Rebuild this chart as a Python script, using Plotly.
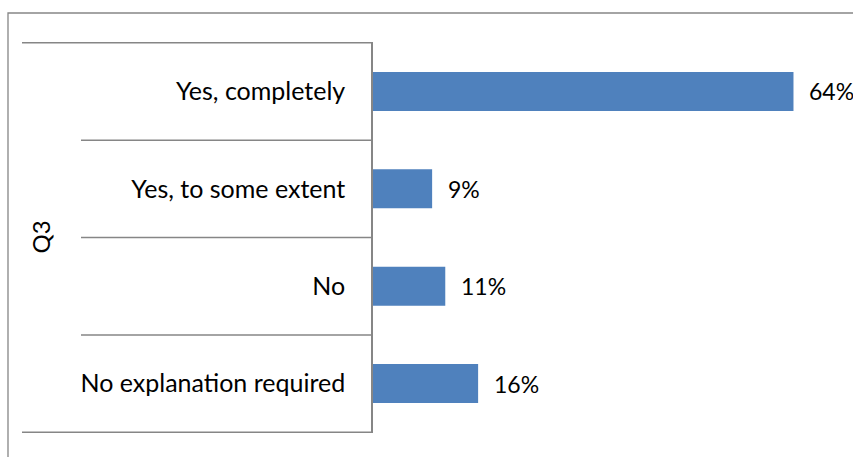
import plotly.graph_objects as go

# Survey question Q3: share of responses per answer
group_label = "Q3"
categories = ["Yes, completely", "Yes, to some extent", "No", "No explanation required"]
shares = [64, 9, 11, 16]
value_labels = ["64%", "9%", "11%", "16%"]

W, H = 853, 457
axis_grey = "#868686"
bar_blue = "#4F81BD"
font_family = "Lato, 'Open Sans', sans-serif"

# plot area in pixels
px_left, px_top, px_bottom = 373, 42, 433
px_per_pct = 6.57

fig = go.Figure()
fig.add_trace(go.Bar(
    x=shares,
    y=categories,
    orientation="h",
    marker=dict(color=bar_blue, line=dict(width=0)),
    hoverinfo="skip",
))

# value labels just beyond the end of each bar
for cat, val, lab in zip(categories, shares, value_labels):
    fig.add_annotation(
        x=val, y=cat, xref="x", yref="y", text=lab, showarrow=False,
        xanchor="left", yanchor="middle", xshift=14,
        font=dict(family=font_family, size=23, color="#000000"),
    )

# category separators of the grouped axis
n = len(categories)
for i in range(n + 1):
    ypos = i - 0.5
    outer = i == 0 or i == n
    fig.add_shape(
        type="line", xref="paper", yref="y",
        x0=(22 if outer else 81) / W, x1=px_left / W, y0=ypos, y1=ypos,
        line=dict(color=axis_grey, width=1.5), layer="above",
    )

# outer chart frame
fig.add_shape(
    type="rect", xref="paper", yref="paper",
    x0=8 / W, x1=1.2, y0=-0.2, y1=1 - 13 / H,
    line=dict(color=axis_grey, width=1.3), fillcolor="rgba(0,0,0,0)", layer="above",
)

# group label on the outer level of the category axis
fig.add_annotation(
    x=40 / W, y=1 - ((px_top + px_bottom) / 2) / H, xref="paper", yref="paper",
    text=group_label, showarrow=False, textangle=-90,
    xanchor="center", yanchor="middle",
    font=dict(family=font_family, size=24, color="#000000"),
)

fig.update_layout(
    width=W, height=H, autosize=False,
    margin=dict(l=0, r=0, t=0, b=0),
    paper_bgcolor="#ffffff", plot_bgcolor="#ffffff",
    bargap=0.6, showlegend=False,
    font=dict(family=font_family, size=25, color="#000000"),
    xaxis=dict(
        domain=[px_left / W, 1],
        range=[0, (W - px_left) / px_per_pct],
        visible=False, fixedrange=True,
    ),
    yaxis=dict(
        domain=[1 - px_bottom / H, 1 - px_top / H],
        autorange="reversed",
        showline=True, linecolor=axis_grey, linewidth=1.5,
        showgrid=False, zeroline=False, ticks="",
        ticklabelstandoff=21,
        tickfont=dict(family=font_family, size=25, color="#000000"),
        fixedrange=True,
    ),
)

fig.write_html("out.html")
